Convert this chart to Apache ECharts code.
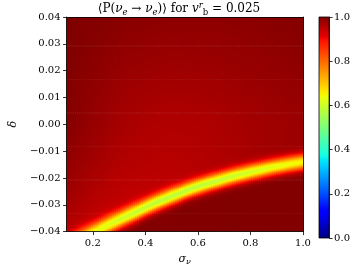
<!DOCTYPE html>
<html><head><meta charset="utf-8">
<script src="https://cdn.jsdelivr.net/npm/echarts@6/dist/echarts.min.js"></script>
<style>html,body{margin:0;padding:0;background:#fff}#c{width:353px;height:271px}</style>
</head><body><div id="c"></div>
<script>
// ---- data ----
const sigmaKnots = [0.10,0.15,0.20,0.25,0.30,0.35,0.40,0.45,0.50,0.55,0.60,0.65,0.70,0.75,0.80,0.85,0.90,0.95,1.00];
// delta of the minimum-probability ridge
const ridgeDelta = [-0.0453,-0.0427,-0.0402,-0.0378,-0.0354,-0.0331,-0.0308,-0.0286,-0.0266,-0.0247,-0.0230,-0.0215,-0.0201,-0.0188,-0.0176,-0.0165,-0.0155,-0.0146,-0.0138];
// probability on the ridge
const ridgeMin = [0.665,0.65,0.635,0.62,0.605,0.595,0.585,0.58,0.578,0.578,0.58,0.585,0.59,0.597,0.605,0.615,0.625,0.635,0.645];
// half-width of the ridge (in delta)
const ridgeWidth = [0.0024,0.0024,0.0023,0.0023,0.0022,0.0022,0.0021,0.0021,0.0021,0.0020,0.0020,0.0020,0.0020,0.0020,0.0020,0.0020,0.0020,0.0020,0.0020];
// probability at delta = 0.04, at delta = 0 and just above the ridge
const topVal = [1.0,0.999,0.997,0.995,0.993,0.991,0.99,0.989,0.988,0.988,0.988,0.988,0.988,0.989,0.99,0.991,0.992,0.994,0.997];
const midVal = [0.995,0.988,0.98,0.973,0.967,0.963,0.96,0.958,0.957,0.957,0.958,0.96,0.962,0.965,0.968,0.97,0.972,0.974,0.976];
const shoulderVal = [0.93,0.925,0.922,0.922,0.925,0.928,0.932,0.936,0.94,0.944,0.948,0.952,0.956,0.96,0.964,0.968,0.971,0.973,0.975];
// probability below the ridge
const belowVal = [0.998,0.998,0.998,0.998,0.998,0.998,0.998,0.998,0.998,0.998,0.998,0.998,0.998,0.998,0.998,0.998,0.998,0.998,0.998];

const xTicks = [0.2,0.4,0.6,0.8,1.0];
const yTicks = [-0.04,-0.03,-0.02,-0.01,0.00,0.01,0.02,0.03,0.04];
const cbTicks = [0.0,0.2,0.4,0.6,0.8,1.0];
const sigmaRange = [0.1,1.0];
const deltaRange = [-0.04,0.04];
const probRange = [0,1];

// ---- grid of cells (centre sigma, centre delta, probability) ----
const NX = 124, NY = 221;
const DX = (sigmaRange[1]-sigmaRange[0])/NX, DY = (deltaRange[1]-deltaRange[0])/NY;
function knot(arr, s){
  let t = (s - sigmaKnots[0]) / (sigmaKnots[1]-sigmaKnots[0]);
  let i = Math.floor(t); if (i < 0) i = 0; if (i > arr.length-2) i = arr.length-2;
  const f = t - i; return arr[i] + (arr[i+1]-arr[i])*f;
}
const cells = [];
for (let i=0;i<NX;i++){
  const s = sigmaRange[0] + (i+0.5)*DX;
  const r = knot(ridgeDelta,s), cm = knot(ridgeMin,s), w = knot(ridgeWidth,s);
  const tv = knot(topVal,s), mv = knot(midVal,s), sv = knot(shoulderVal,s), bv = knot(belowVal,s);
  for (let j=0;j<NY;j++){
    const d0 = deltaRange[0] + (j+0.5)*DY;
    const d = d0 - r;
    let base;
    if (d < 0) base = bv;
    else if (d0 >= 0) base = mv + (tv-mv)*d0/deltaRange[1];
    else { let t = (d0 - r)/(-r); t = Math.max(0,Math.min(1,t)); base = sv + (mv-sv)*Math.sqrt(t); }
    const g = Math.exp(-d*d/(2*w*w));
    cells.push([s, d0, base - (base-cm)*g]);
  }
}

// ---- jet colormap ----
function seg(v, pts){
  for (let k=0;k<pts.length-1;k++){
    if (v <= pts[k+1][0]){ const f=(v-pts[k][0])/(pts[k+1][0]-pts[k][0]); return pts[k][1]+(pts[k+1][1]-pts[k][1])*f; }
  }
  return pts[pts.length-1][1];
}
function jet(v){
  const r = seg(v,[[0,0],[0.35,0],[0.66,1],[0.89,1],[1,0.5]]);
  const g = seg(v,[[0,0],[0.125,0],[0.375,1],[0.64,1],[0.91,0],[1,0]]);
  const b = seg(v,[[0,0.5],[0.11,1],[0.34,1],[0.65,0],[1,0]]);
  return 'rgb('+Math.round(r*255)+','+Math.round(g*255)+','+Math.round(b*255)+')';
}
const jetColors = []; for (let k=0;k<=200;k++) jetColors.push(jet(k/200));
const cbStops = []; for (let k=0;k<=100;k++) cbStops.push({offset:k/100, color: jet(1-k/100)});

const serif = 'DejaVu Serif';
const fmt = v => (v<-1e-9?'\u2212':'') + Math.abs(v).toFixed(2);
const fmt1 = v => v.toFixed(1);
function tick(){ return {show:true, inside:false, length:3.5, lineStyle:{color:'#000', width:0.8}}; }
function lbl(){ return {color:'#000', fontFamily:serif, fontSize:10}; }
function frame(){ return {show:true, onZero:false, lineStyle:{color:'#000', width:0.8}}; }

const chart = echarts.init(document.getElementById('c'), null, {renderer:'canvas'});
chart.setOption({
  animation:false,
  backgroundColor:'#fff',
  grid:[
    {left:55, top:17, width:248, height:221},
    {left:319, top:17, width:12, height:221}
  ],
  xAxis:[
    {type:'value', gridIndex:0, min:sigmaRange[0], max:sigmaRange[1], position:'bottom', z:10,
     axisLine:frame(),
     axisTick:Object.assign(tick(), {customValues:xTicks}),
     axisLabel:Object.assign(lbl(), {customValues:xTicks, margin:7, formatter:fmt1}),
     splitLine:{show:false},
     name:'{i|σ}{s|ν}', nameLocation:'middle', nameGap:20,
     nameTextStyle:{rich:{i:{fontFamily:serif, fontStyle:'italic', fontSize:11, color:'#000', lineHeight:14, verticalAlign:'middle'},
                          s:{fontFamily:serif, fontStyle:'italic', fontSize:8, color:'#000', lineHeight:14, verticalAlign:'bottom'}}}},
    {type:'value', gridIndex:0, min:sigmaRange[0], max:sigmaRange[1], position:'top', z:10,
     axisLine:frame(), axisTick:{show:false}, axisLabel:{show:false}, splitLine:{show:false}},
    {type:'value', gridIndex:1, min:0, max:1, show:false}
  ],
  yAxis:[
    {type:'value', gridIndex:0, min:deltaRange[0], max:deltaRange[1], interval:0.01, position:'left', z:10,
     axisLine:frame(),
     axisTick:tick(),
     axisLabel:Object.assign(lbl(), {margin:6, formatter:fmt}),
     splitLine:{show:false},
     name:'δ', nameLocation:'middle', nameGap:46, nameRotate:90,
     nameTextStyle:{fontFamily:serif, fontStyle:'italic', fontSize:11, color:'#000'}},
    {type:'value', gridIndex:0, min:deltaRange[0], max:deltaRange[1], position:'right', z:10,
     axisLine:frame(), axisTick:{show:false}, axisLabel:{show:false}, splitLine:{show:false}},
    {type:'value', gridIndex:1, min:probRange[0], max:probRange[1], interval:0.2, position:'right', z:10,
     axisLine:frame(),
     axisTick:tick(),
     axisLabel:Object.assign(lbl(), {margin:5, formatter:fmt1}),
     splitLine:{show:false}}
  ],
  visualMap:{type:'continuous', show:false, min:probRange[0], max:probRange[1], dimension:2, seriesIndex:0,
    inRange:{color:jetColors}},
  series:[
    {type:'custom', xAxisIndex:0, yAxisIndex:0, data:cells, progressive:0, silent:true, clip:true,
     renderItem:function(params, api){
       const p = api.coord([api.value(0) - DX/2, api.value(1) + DY/2]);
       const sz = api.size([DX, DY]);
       return {type:'rect', shape:{x:p[0], y:p[1], width:sz[0]+0.7, height:sz[1]+0.7},
         style:{fill:api.visual('color')}};
     }},
    {type:'custom', xAxisIndex:2, yAxisIndex:2, data:[[0, probRange[0], 1, probRange[1]]], z:1, silent:true,
     renderItem:function(params, api){
       const p0 = api.coord([api.value(0), api.value(3)]);
       const p1 = api.coord([api.value(2), api.value(1)]);
       return {type:'rect', shape:{x:p0[0], y:p0[1], width:p1[0]-p0[0], height:p1[1]-p0[1]},
         style:{fill:{type:'linear', x:0, y:0, x2:0, y2:1, colorStops:cbStops}, stroke:'#000', lineWidth:0.8}};
     }}
  ],
  graphic:[
    {type:'text', x:179, y:9, style:{
      text:'{n|⟨P(}{i|ν}{s|e}{n| → }{i|ν}{s|e}{n|)⟩ for }{i|v}{p|r}{b|b}{n| = 0.025}',
      align:'center', verticalAlign:'middle',
      rich:{
        n:{fontFamily:serif, fontSize:12, fill:'#000', lineHeight:16, verticalAlign:'middle'},
        i:{fontFamily:serif, fontStyle:'italic', fontSize:12, fill:'#000', lineHeight:16, verticalAlign:'middle'},
        s:{fontFamily:serif, fontStyle:'italic', fontSize:8.5, fill:'#000', lineHeight:16, verticalAlign:'bottom'},
        b:{fontFamily:serif, fontSize:8.5, fill:'#000', lineHeight:16, verticalAlign:'bottom'},
        p:{fontFamily:serif, fontStyle:'italic', fontSize:8.5, fill:'#000', lineHeight:16, verticalAlign:'top'}
      }}}
  ]
});
</script></body></html>
